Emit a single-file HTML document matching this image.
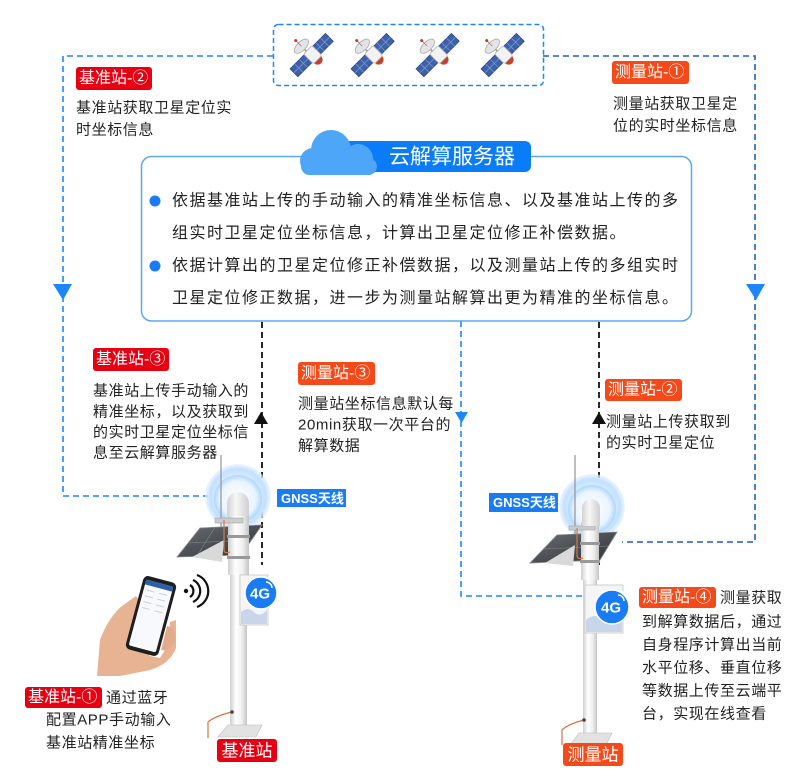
<!DOCTYPE html>
<html><head><meta charset="utf-8"><style>
html,body{margin:0;padding:0;background:#fff;}
svg{display:block;}
text{font-family:"Liberation Sans","Noto Sans CJK SC",sans-serif;dominant-baseline:central;}
.p{font-size:15px;fill:#222;letter-spacing:0.6px;}
.b{font-size:16px;fill:#222;letter-spacing:1.5px;}
.t{font-size:16px;fill:#fff;}
.g{font-size:13px;fill:#fff;font-weight:bold;}
</style></head><body>
<svg width="800" height="778" viewBox="0 0 800 778" xmlns="http://www.w3.org/2000/svg">
<defs>
  <g id="sat">
    <line x1="-8" y1="0.5" x2="8" y2="0.5" stroke="#999" stroke-width="1.5"/>
    <rect x="4" y="-5" width="20" height="11" fill="#3d62ad" stroke="#2a4688" stroke-width="0.8"/>
    <line x1="10.7" y1="-5" x2="10.7" y2="6" stroke="#8fa3cc" stroke-width="0.6"/>
    <line x1="17.3" y1="-5" x2="17.3" y2="6" stroke="#8fa3cc" stroke-width="0.6"/>
    <line x1="4" y1="0.5" x2="24" y2="0.5" stroke="#8fa3cc" stroke-width="0.6"/>
    <rect x="-26" y="-5" width="20" height="11" fill="#3d62ad" stroke="#2a4688" stroke-width="0.8"/>
    <line x1="-19.3" y1="-5" x2="-19.3" y2="6" stroke="#8fa3cc" stroke-width="0.6"/>
    <line x1="-12.7" y1="-5" x2="-12.7" y2="6" stroke="#8fa3cc" stroke-width="0.6"/>
    <line x1="-26" y1="0.5" x2="-6" y2="0.5" stroke="#8fa3cc" stroke-width="0.6"/>
    <path d="M-5 8 A5 5 0 0 0 5 8 Z" fill="#c8402a"/>
    <rect x="-6" y="-6" width="12" height="14" rx="2" fill="#f2f2f2" stroke="#b5b5b5" stroke-width="0.8"/>
    <line x1="-2" y1="-6" x2="-2" y2="-11" stroke="#999" stroke-width="1.5"/>
    <ellipse cx="-2" cy="-13" rx="9" ry="4.5" fill="#e4e4e4" stroke="#a8a8a8" stroke-width="0.8"/>
    <line x1="-2" y1="-13" x2="-2" y2="-21" stroke="#888" stroke-width="0.8"/>
    <circle cx="-2" cy="-21" r="1.5" fill="#c33"/>
  </g>
  <linearGradient id="pole" x1="0" x2="1" y1="0" y2="0">
    <stop offset="0" stop-color="#cfcfcf"/><stop offset="0.35" stop-color="#ffffff"/>
    <stop offset="0.7" stop-color="#efefef"/><stop offset="1" stop-color="#c4c4c4"/>
  </linearGradient>
  <radialGradient id="glowO">
    <stop offset="0" stop-color="#f4faff"/><stop offset="0.6" stop-color="#dcedff"/>
    <stop offset="0.85" stop-color="#c2e0ff"/><stop offset="1" stop-color="#e0efff" stop-opacity="0.6"/>
  </radialGradient>
  <radialGradient id="glowI">
    <stop offset="0" stop-color="#ffffff"/><stop offset="0.75" stop-color="#e9f4ff"/>
    <stop offset="1" stop-color="#acd6ff"/>
  </radialGradient>
  <linearGradient id="panel" x1="0" x2="1" y1="0" y2="1">
    <stop offset="0" stop-color="#6b6f75"/><stop offset="1" stop-color="#2e3136"/>
  </linearGradient>
  <linearGradient id="dome" x1="0" x2="1">
    <stop offset="0" stop-color="#d2d2d2"/><stop offset="0.4" stop-color="#f7f7f7"/><stop offset="1" stop-color="#cfcfcf"/>
  </linearGradient>
</defs>

<!-- satellite box -->
<rect x="273.5" y="24.5" width="270" height="61" rx="5" fill="none" stroke="#1d86ff" stroke-width="1.5" stroke-dasharray="5 3"/>
<use href="#sat" transform="translate(312,54) rotate(-45)"/>
<use href="#sat" transform="translate(373,54) rotate(-45)"/>
<use href="#sat" transform="translate(438,54) rotate(-45)"/>
<use href="#sat" transform="translate(503,54) rotate(-45)"/>

<!-- blue dashed connectors -->
<path d="M273 56 H63 V496 H208" fill="none" stroke="#1d86ff" stroke-width="1.6" stroke-dasharray="6 4"/>
<polygon points="53,284 72,284 63,300" fill="#1d86ff"/>
<path d="M543 56 H755 V542 H622" fill="none" stroke="#1f5fc4" stroke-width="1.6" stroke-dasharray="6 4"/>
<polygon points="746,284 765,284 756,300" fill="#1d86ff"/>
<path d="M461 321 V596 H585" fill="none" stroke="#1d86ff" stroke-width="1.6" stroke-dasharray="6 4"/>
<polygon points="455,412 468,412 461.5,423" fill="#1d86ff"/>

<!-- black dashed -->
<path d="M262 322 V565" fill="none" stroke="#111" stroke-width="1.8" stroke-dasharray="6 4"/>
<polygon points="254,424 268,424 261,412" fill="#111"/>
<path d="M599 322 V565" fill="none" stroke="#111" stroke-width="1.8" stroke-dasharray="6 4"/>
<polygon points="592,424 606,424 599,412" fill="#111"/>

<!-- cloud server box -->
<rect x="141.5" y="156.5" width="550" height="164.5" rx="10" fill="#fff" stroke="#5aa8f5" stroke-width="1.5"/>
<rect x="340" y="141" width="191" height="31" rx="6" fill="#0a7cf7"/>
<g fill="#4da6f7">
  <circle cx="331" cy="150" r="20"/>
  <circle cx="313" cy="161" r="13"/>
  <circle cx="358" cy="159" r="15"/>
  <rect x="301" y="158" width="76" height="17" rx="8.5"/>
</g>
<text x="389" y="157" style="font-size:21px;fill:#fff">云解算服务器</text>

<circle cx="155" cy="201" r="5.5" fill="#1a7cf5"/>
<circle cx="155" cy="266" r="5.5" fill="#1a7cf5"/>
<text class="b" x="172" y="201">依据基准站上传的手动输入的精准坐标信息、以及基准站上传的多</text>
<text class="b" x="172" y="233.5">组实时卫星定位坐标信息，计算出卫星定位修正补偿数据。</text>
<text class="b" x="172" y="266">依据计算出的卫星定位修正补偿数据，以及测量站上传的多组实时</text>
<text class="b" x="172" y="298.5">卫星定位修正数据，进一步为测量站解算出更为精准的坐标信息。</text>

<!-- labels -->
<rect x="76" y="67" width="76" height="23" rx="3" fill="#e60012"/>
<text class="t" x="79" y="78.5">基准站-②</text>
<text class="p" x="76" y="108">基准站获取卫星定位实</text>
<text class="p" x="76" y="130">时坐标信息</text>

<rect x="612" y="61" width="77" height="23" rx="3" fill="#f6491a"/>
<text class="t" x="615" y="72.5">测量站-①</text>
<text class="p" x="613" y="104">测量站获取卫星定</text>
<text class="p" x="613" y="126">位的实时坐标信息</text>

<rect x="93" y="348" width="76" height="23" rx="3" fill="#e60012"/>
<text class="t" x="96" y="359.5">基准站-③</text>
<text class="p" x="93" y="391">基准站上传手动输入的</text>
<text class="p" x="93" y="412">精准坐标，以及获取到</text>
<text class="p" x="93" y="432.5">的实时卫星定位坐标信</text>
<text class="p" x="93" y="453">息至云解算服务器</text>

<rect x="298" y="362" width="77" height="23" rx="3" fill="#f6491a"/>
<text class="t" x="301" y="373.5">测量站-③</text>
<text class="p" x="298" y="404">测量站坐标信息默认每</text>
<text class="p" x="298" y="425">20min获取一次平台的</text>
<text class="p" x="298" y="446">解算数据</text>

<rect x="605" y="379" width="77" height="22" rx="3" fill="#f6491a"/>
<text class="t" x="608" y="390">测量站-②</text>
<text class="p" x="606" y="422">测量站上传获取到</text>
<text class="p" x="606" y="443">的实时卫星定位</text>

<!-- LEFT STATION -->
<circle cx="238" cy="497" r="33" fill="url(#glowO)"/>
<circle cx="238" cy="499" r="24" fill="url(#glowI)"/>
<line x1="221" y1="455" x2="221" y2="545" stroke="#9a9a9a" stroke-width="1.3"/>
<polygon points="177,557 200,528 262,525 241,555" fill="url(#panel)" stroke="#888" stroke-width="0.8"/>
<line x1="188" y1="543" x2="251" y2="540" stroke="#888" stroke-width="0.6"/>
<line x1="215" y1="527" x2="197" y2="556" stroke="#888" stroke-width="0.6"/>
<polygon points="192,557 222,562 224,540" fill="#d9d9d9"/>
<rect x="230" y="520" width="17" height="212" fill="url(#pole)"/>
<rect x="228" y="513" width="21" height="62" fill="url(#pole)"/>
<rect x="227" y="535" width="23" height="3" fill="#999"/>
<rect x="227" y="556" width="23" height="3" fill="#999"/>
<rect x="215" y="518" width="28" height="5" fill="#ccc" stroke="#999" stroke-width="0.5"/>
<path d="M224 520 V550 Q224 554 230 552" fill="none" stroke="#d07a45" stroke-width="1.2"/>
<path d="M227 503 A11 11 0 0 1 249 503 V516 H227 Z" fill="url(#dome)"/>
<rect x="240" y="575" width="28" height="50" fill="#f5f5f5" stroke="#c8c8c8" stroke-width="0.8"/>
<path d="M241 612 Q248 606 254 612 T267 610 V624 H241 Z" fill="#c9d6ea"/>
<circle cx="261" cy="593" r="16" fill="#1a7cf5" stroke="#fff" stroke-width="1.5"/>
<text x="260" y="594" text-anchor="middle" style="font-size:15px;fill:#fff;font-weight:bold">4G</text>
<path d="M266 582 A6 6 0 0 1 272 588 M266 578 A10 10 0 0 1 276 588" fill="none" stroke="#fff" stroke-width="1.5"/>
<polygon points="218,737 228,725 262,725 256,737" fill="#e2e2e2" stroke="#bbb" stroke-width="0.6"/>
<path d="M232 712 Q215 716 208 722 V738" fill="none" stroke="#d8733f" stroke-width="1.2"/>
<circle cx="232" cy="712" r="1.8" fill="#444"/>

<!-- hand & phone -->
<path d="M97 676 L100 640 Q108 618 122 606 L136 596 L142 604 L134 640 L150 656 L160 658 L168 645 L170 622 L176 620 L176 648 Q170 664 150 670 L120 676 Z" fill="#e8b393"/>
<g transform="translate(151,616) rotate(15)">
  <rect x="-17" y="-38" width="34" height="76" rx="5" fill="#1e1e1e"/>
  <rect x="-14" y="-34" width="28" height="68" rx="2" fill="#f7f9fc"/>
  <rect x="-14" y="-34" width="28" height="5" fill="#2f5fa8"/>
  <g stroke="#c9cfd8" stroke-width="1">
    <line x1="-11" y1="-24" x2="-3" y2="-24"/><line x1="2" y1="-24" x2="10" y2="-24"/>
    <line x1="-11" y1="-18" x2="-3" y2="-18"/><line x1="2" y1="-18" x2="10" y2="-18"/>
    <line x1="-11" y1="-12" x2="-3" y2="-12"/><line x1="2" y1="-12" x2="10" y2="-12"/>
    <line x1="-11" y1="-6" x2="-3" y2="-6"/><line x1="2" y1="-6" x2="10" y2="-6"/>
  </g>
</g>
<path d="M167 626 Q177 628 175 642 Q169 652 161 650 Z" fill="#e3ab8b"/>
<circle cx="186" cy="591" r="2.2" fill="#111"/>
<path d="M190 585 A7 7 0 0 1 190 597 M193 580 A12 12 0 0 1 193 602 M197 575 A17 17 0 0 1 197 607" fill="none" stroke="#111" stroke-width="2.2"/>

<rect x="277" y="489" width="69" height="18" fill="#1a7cf5"/>
<text class="g" x="281" y="498.5">GNSS天线</text>

<rect x="25" y="687" width="77" height="21" rx="3" fill="#e60012"/>
<text class="t" x="28" y="697.5">基准站-①</text>
<text class="p" x="106" y="698">通过蓝牙</text>
<text class="p" x="46" y="720">配置APP手动输入</text>
<text class="p" x="46" y="743">基准站精准坐标</text>

<rect x="217" y="739" width="60" height="23" rx="3" fill="#e60012"/>
<text x="247" y="751" text-anchor="middle" style="font-size:17px;fill:#fff">基准站</text>

<!-- RIGHT STATION -->
<circle cx="592" cy="507" r="33" fill="url(#glowO)"/>
<circle cx="592" cy="509" r="24" fill="url(#glowI)"/>
<line x1="575" y1="455" x2="575" y2="552" stroke="#9a9a9a" stroke-width="1.3"/>
<polygon points="530,563 557,535 617,532 600,560" fill="url(#panel)" stroke="#888" stroke-width="0.8"/>
<line x1="543" y1="549" x2="608" y2="546" stroke="#888" stroke-width="0.6"/>
<polygon points="545,563 573,566 575,545" fill="#d9d9d9"/>
<rect x="583" y="525" width="14" height="210" fill="url(#pole)"/>
<rect x="581" y="522" width="18" height="58" fill="url(#pole)"/>
<rect x="580" y="542" width="20" height="3" fill="#999"/>
<rect x="580" y="560" width="20" height="3" fill="#999"/>
<rect x="569" y="526" width="26" height="4" fill="#ccc" stroke="#999" stroke-width="0.5"/>
<path d="M577 528 V555 Q577 560 583 558" fill="none" stroke="#d07a45" stroke-width="1.2"/>
<path d="M582 508 A9 9 0 0 1 600 508 V526 H582 Z" fill="url(#dome)"/>
<rect x="585" y="585" width="38" height="48" fill="#f5f5f5" stroke="#c8c8c8" stroke-width="0.8"/>
<path d="M586 620 Q595 612 603 620 T622 617 V632 H586 Z" fill="#c9d6ea"/>
<circle cx="612" cy="607" r="17" fill="#1a7cf5" stroke="#fff" stroke-width="1.5"/>
<text x="611" y="608" text-anchor="middle" style="font-size:15px;fill:#fff;font-weight:bold">4G</text>
<path d="M618 595 A6 6 0 0 1 624 601 M618 591 A10 10 0 0 1 628 601" fill="none" stroke="#fff" stroke-width="1.5"/>
<polygon points="570,745 579,733 612,733 606,745" fill="#e2e2e2" stroke="#bbb" stroke-width="0.6"/>
<path d="M584 720 Q568 724 562 730 V745" fill="none" stroke="#d8733f" stroke-width="1.2"/>
<circle cx="584" cy="720" r="1.8" fill="#444"/>

<rect x="489" y="493" width="69" height="19" fill="#1a7cf5"/>
<text class="g" x="493" y="502.5">GNSS天线</text>

<rect x="639" y="587" width="77" height="21" rx="3" fill="#f6491a"/>
<text class="t" x="642" y="597.5">测量站-④</text>
<text class="p" x="720" y="598">测量获取</text>
<text class="p" x="642" y="622">到解算数据后，通过</text>
<text class="p" x="642" y="645">自身程序计算出当前</text>
<text class="p" x="642" y="668">水平位移、垂直位移</text>
<text class="p" x="642" y="691">等数据上传至云端平</text>
<text class="p" x="642" y="714">台，实现在线查看</text>

<rect x="563" y="743" width="60" height="23" rx="3" fill="#f6491a"/>
<text x="593" y="755" text-anchor="middle" style="font-size:17px;fill:#fff">测量站</text>
</svg>
</body></html>
